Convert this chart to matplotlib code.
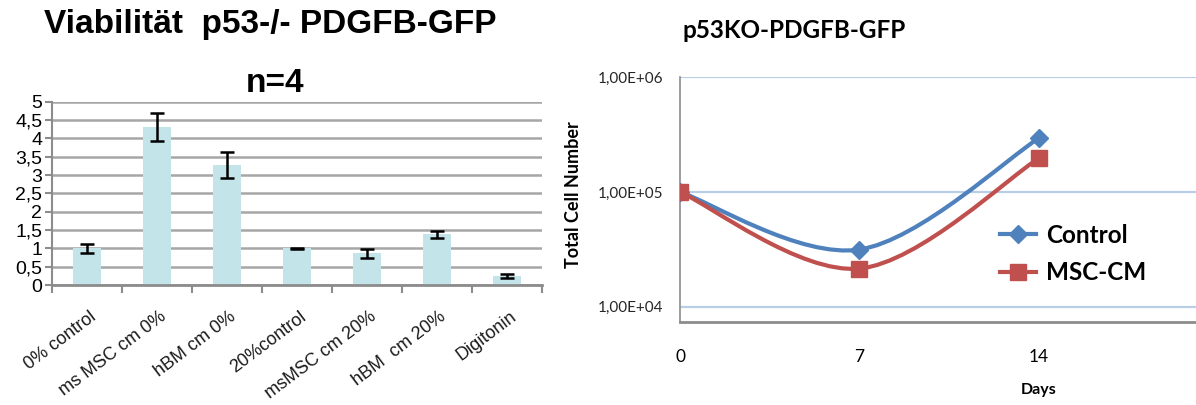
import numpy as np
import matplotlib
matplotlib.use('Agg')
import matplotlib.pyplot as plt
from matplotlib import font_manager
from matplotlib.path import Path
from matplotlib.patches import PathPatch
from matplotlib.lines import Line2D

# linkes Diagramm: Viabilität
categories = ['0% control', 'ms MSC cm 0%', 'hBM cm 0%', '20%control',
              'msMSC cm 20%', 'hBM  cm 20%', 'Digitonin']
viability = [1.0, 4.30, 3.28, 1.0, 0.87, 1.38, 0.25]
viability_err = [0.12, 0.38, 0.35, 0.02, 0.12, 0.09, 0.05]
y_ticks = [0, 0.5, 1, 1.5, 2, 2.5, 3, 3.5, 4, 4.5, 5]
y_ticklabels = ['0', '0,5', '1', '1,5', '2', '2,5', '3', '3,5', '4', '4,5', '5']

# rechtes Diagramm: Zellzahl
days = [0, 7, 14]
control = [1.0e5, 3.15e4, 2.95e5]
msc_cm = [1.0e5, 2.15e4, 1.97e5]
log_ticks = [1e4, 1e5, 1e6]
log_ticklabels = ['1,00E+04', '1,00E+05', '1,00E+06']

W, H = 1196, 405


def smooth_path(x, y):
    # Excel-artige Glättung: Catmull-Rom als kubische Bezier in (x, log y)
    lx = np.array(x, dtype=float)
    ly = np.log10(y)
    pts = np.column_stack([lx, ly])
    pts_ext = np.vstack([pts[0], pts, pts[-1]])
    verts = [pts[0]]
    codes = [Path.MOVETO]
    for i in range(len(pts) - 1):
        p0, p1, p2, p3 = pts_ext[i], pts_ext[i + 1], pts_ext[i + 2], pts_ext[i + 3]
        c1 = p1 + (p2 - p0) / 6
        c2 = p2 - (p3 - p1) / 6
        verts += [c1, c2, p2]
        codes += [Path.CURVE4] * 3
    verts = np.array(verts)
    verts[:, 1] = 10 ** verts[:, 1]
    return Path(verts, codes)


def main():
    names = {f.name for f in font_manager.fontManager.ttflist}
    if 'Liberation Sans Narrow' in names:
        title_font, title_size = 'Liberation Sans Narrow', 27
    else:
        title_font, title_size = 'Liberation Sans', 24

    fig = plt.figure(figsize=(W / 100, H / 100), dpi=100)

    # ---- links ----
    ax1 = fig.add_axes([52 / W, 1 - 285 / H, 490 / W, (285 - 101.7) / H])
    x = np.arange(len(categories))
    ax1.bar(x, viability, width=0.4, color='#c3e4e8', zorder=2)
    ax1.errorbar(x, viability, yerr=viability_err, fmt='none', ecolor='black',
                 elinewidth=1.8, capsize=5, capthick=1.8, zorder=3)
    ax1.set_xlim(-0.5, len(categories) - 0.5)
    ax1.set_ylim(0, 5)
    ax1.set_yticks(y_ticks)
    ax1.set_yticklabels(y_ticklabels, fontsize=14, family='Liberation Sans')
    ax1.yaxis.grid(True, color='#a6a6a6', linewidth=1.8, zorder=0)
    ax1.set_axisbelow(True)
    ax1.set_xticks(np.arange(len(categories) + 1) - 0.5)
    ax1.set_xticklabels([])
    ax1.set_xticks(x + 0.03, minor=True)
    ax1.set_xticklabels(categories, minor=True, rotation=37, ha='right', va='top',
                        rotation_mode='anchor', fontsize=13,
                        family='Liberation Sans', color='#1a1a1a')
    ax1.tick_params(axis='x', which='minor', length=0, pad=16.5)
    ax1.tick_params(axis='x', which='major', length=6, width=1.5, color='#8c8c8c')
    ax1.tick_params(axis='y', length=5, width=1.5, color='#8c8c8c', pad=2)
    for s in ['top', 'right']:
        ax1.spines[s].set_visible(False)
    ax1.spines['left'].set_color('#8c8c8c')
    ax1.spines['left'].set_linewidth(1.5)
    ax1.spines['bottom'].set_color('#8c8c8c')
    ax1.spines['bottom'].set_linewidth(2)
    fig.text(270 / W, 1 - 25 / H, 'Viabilität  p53-/- PDGFB-GFP', ha='center',
             va='center', fontsize=title_size, fontweight='bold', family=title_font)
    fig.text(275 / W, 1 - 83 / H, 'n=4', ha='center', va='center',
             fontsize=title_size, fontweight='bold', family=title_font)

    # ---- rechts ----
    ax2 = fig.add_axes([680 / W, 1 - 321.7 / H, (W - 680) / W, (321.7 - 77.3) / H])
    ax2.set_yscale('log')
    ax2.set_ylim(10 ** 3.869, 1e6)
    ax2.set_xlim(0, (W - 680) / 25.64)
    ax2.set_yticks(log_ticks)
    ax2.set_yticklabels(log_ticklabels, fontsize=11, family='Lato', color='#262626')
    ax2.yaxis.set_minor_locator(matplotlib.ticker.NullLocator())
    ax2.set_xticks(days)
    ax2.set_xticklabels([str(d) for d in days], fontsize=12.5, family='Lato')
    ax2.tick_params(axis='both', length=0)
    ax2.tick_params(axis='x', pad=20)
    ax2.tick_params(axis='y', pad=12)
    ax2.yaxis.grid(True, color='#b8cde6', linewidth=1.6)
    ax2.set_axisbelow(True)
    for s in ['top', 'right']:
        ax2.spines[s].set_visible(False)
    ax2.spines['left'].set_color('#8c8c8c')
    ax2.spines['left'].set_linewidth(1.2)
    ax2.spines['bottom'].set_color('#8c8c8c')
    ax2.spines['bottom'].set_linewidth(2)

    series = [(control, '#4f81bd', 'D', 9, 'Control'),
              (msc_cm, '#c0504d', 's', 11, 'MSC-CM')]
    handles = []
    for vals, col, mk, ms, lab in series:
        ax2.add_patch(PathPatch(smooth_path(days, vals), fill=False,
                                edgecolor=col, linewidth=3, zorder=3))
        ax2.plot(days, vals, linestyle='none', marker=mk, markersize=ms,
                 color=col, zorder=4)
        handles.append(Line2D([], [], color=col, linewidth=3, marker=mk,
                              markersize=ms, label=lab))
    ax2.legend(handles=handles, loc='center left',
               bbox_to_anchor=(978 / W, 1 - 254 / H), bbox_transform=fig.transFigure,
               frameon=False, prop={'family': 'Lato', 'weight': 'bold', 'size': 17.5},
               handlelength=1.5, handletextpad=0.4, labelspacing=0.6)

    ax2.set_ylabel('Total Cell Number', fontsize=13, fontweight='bold', family='Lato')
    ax2.yaxis.set_label_coords((582 - 680) / (W - 680), (321.7 - 195) / 244.4)
    ax2.set_xlabel('Days', fontsize=11.5, fontweight='bold', family='Lato')
    ax2.xaxis.set_label_coords(14 / ((W - 680) / 25.64), -(383 - 321.7) / 244.4)
    fig.text(683 / W, 1 - 30 / H, 'p53KO-PDGFB-GFP', ha='left', va='center',
             fontsize=17.5, fontweight='bold', family='Lato')

    fig.savefig('out.png', dpi=100)


if __name__ == "__main__":
    main()
